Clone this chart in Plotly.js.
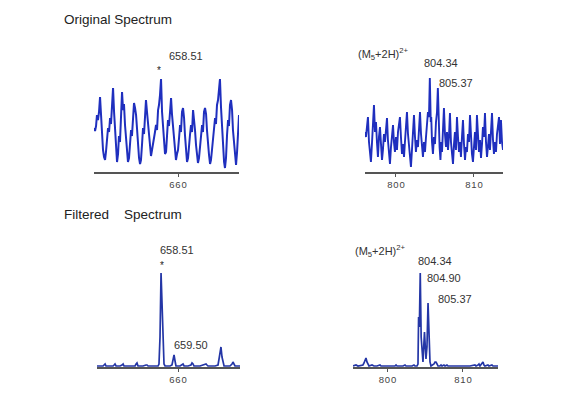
<!DOCTYPE html>
<html>
<head>
<meta charset="utf-8">
<script src="https://cdn.plot.ly/plotly-3.0.1.min.js"></script>
<style>html,body{margin:0;padding:0;background:#fff;}#chart{width:566px;height:393px;}</style>
</head>
<body>
<div id="chart"></div>
<script>
// ---- Original spectrum, left window (m/z, intensity a.u.)
var origLeftMz = [652.63,652.72,652.81,652.89,652.98,653.07,653.16,653.25,653.33,653.42,653.51,653.60,653.68,653.77,653.86,653.95,654.04,654.12,654.21,654.30,654.39,654.47,654.56,654.65,654.74,654.82,654.91,655.00,655.09,655.18,655.26,655.35,655.44,655.53,655.61,655.70,655.79,655.88,655.96,656.05,656.14,656.23,656.32,656.40,656.49,656.58,656.67,656.75,656.84,656.93,657.02,657.11,657.19,657.28,657.37,657.46,657.54,657.63,657.72,657.81,657.89,657.98,658.07,658.16,658.25,658.33,658.42,658.51,658.60,658.68,658.77,658.86,658.95,659.04,659.12,659.21,659.30,659.39,659.47,659.56,659.65,659.74,659.82,659.91,660.00,660.09,660.18,660.26,660.35,660.44,660.53,660.61,660.70,660.79,660.88,660.96,661.05,661.14,661.23,661.32,661.40,661.49,661.58,661.67,661.75,661.84,661.93,662.02,662.11,662.19,662.28,662.37,662.46,662.54,662.63,662.72,662.81,662.89,662.98,663.07,663.16,663.25,663.33,663.42,663.51,663.60,663.68,663.77,663.86,663.95,664.04,664.12,664.21,664.30,664.39,664.47,664.56,664.65,664.74,664.82,664.91,665.00,665.09,665.18,665.26,665.35];
var origLeftInt = [44,41,46,57,52,60,75,55,36,22,15,12,20,37,44,40,54,48,67,84,60,40,22,10,18,36,30,60,80,62,68,47,32,17,10,14,30,42,36,60,69,64,57,44,27,14,8,12,27,44,38,64,72,60,47,32,22,16,22,27,32,40,47,42,62,67,77,93,60,45,28,18,20,42,52,46,64,74,58,47,32,20,12,18,22,34,47,40,60,64,54,37,24,10,14,22,37,47,40,62,54,42,27,17,9,14,27,40,47,40,60,64,58,42,27,17,8,12,22,32,42,54,48,67,72,82,93,65,42,25,10,4,14,37,52,46,67,72,62,42,27,14,7,20,42,57];

// ---- Original spectrum, right window
var origRightMz = [796.03,796.15,796.28,796.41,796.54,796.67,796.79,796.92,797.05,797.18,797.31,797.44,797.56,797.69,797.82,797.95,798.08,798.21,798.33,798.46,798.59,798.72,798.85,798.97,799.10,799.23,799.36,799.49,799.62,799.74,799.87,800.00,800.13,800.26,800.38,800.51,800.64,800.77,800.90,801.03,801.15,801.28,801.41,801.54,801.67,801.79,801.92,802.05,802.18,802.31,802.44,802.56,802.69,802.82,802.95,803.08,803.21,803.33,803.46,803.59,803.72,803.85,803.97,804.10,804.23,804.34,804.46,804.52,804.62,804.74,804.87,805.00,805.13,805.26,805.37,805.49,805.59,805.70,805.80,805.90,806.03,806.15,806.28,806.41,806.54,806.67,806.79,806.92,807.05,807.18,807.31,807.44,807.56,807.69,807.82,807.95,808.08,808.21,808.33,808.46,808.59,808.72,808.85,808.97,809.10,809.23,809.36,809.49,809.62,809.74,809.87,810.00,810.13,810.26,810.38,810.51,810.64,810.77,810.90,811.03,811.15,811.28,811.41,811.54,811.67,811.79,811.92,812.05,812.18,812.31,812.44,812.56,812.69,812.82,812.95,813.08,813.21,813.33,813.46,813.59,813.72];
var origRightInt = [40,35,45,55,30,18,10,28,45,67,40,50,30,15,35,45,28,12,22,38,30,42,54,32,15,8,25,38,47,30,20,35,22,40,48,55,35,18,28,15,30,45,60,38,25,12,5,22,40,57,35,20,32,25,42,60,38,22,15,30,20,35,45,60,55,94,50,55,30,18,35,28,50,60,84,45,25,12,30,20,45,64,38,25,40,22,35,59,30,15,8,28,40,22,55,35,20,30,15,35,52,28,12,25,20,38,30,57,35,18,10,28,40,22,57,38,20,32,14,28,45,35,59,30,15,25,38,22,42,59,32,18,30,20,38,45,55,28,52,30,22];

// ---- Filtered spectrum, left window
var filtLeftMz = [652.89,653.16,653.42,653.51,653.60,653.68,654.04,654.30,654.39,654.47,654.56,654.91,655.09,655.18,655.26,655.79,656.23,656.32,656.40,656.49,656.93,657.19,657.28,657.37,657.98,658.25,658.33,658.42,658.51,658.60,658.68,658.77,658.86,659.30,659.47,659.56,659.65,659.74,659.82,660.18,660.35,660.44,660.53,660.88,661.14,661.23,661.32,661.40,661.93,662.19,662.28,662.46,662.54,662.63,663.25,663.51,663.60,663.68,663.77,663.86,663.95,664.04,664.56,664.74,664.82,664.91,665.00,665.44];
var filtLeftInt = [1,1,1,2,3,1,1,1,2,3,1,1,2,3,1,1,1,3,4,1,1,2,2,1,1,1,3,30,94,55,15,3,1,1,2,6,12,6,1,1,2,3,1,1,2,4,3,1,1,2,2,3,2,1,1,2,8,14,20,10,3,1,1,3,5,2,1,1];

// ---- Filtered spectrum, right window
var filtRightMz = [795.43,795.83,796.09,796.49,796.75,796.89,797.02,797.15,797.28,797.42,797.55,797.95,798.21,798.61,799.01,799.14,799.67,800.60,800.99,801.13,801.26,802.05,802.32,802.45,803.25,803.51,803.64,803.91,804.04,804.12,804.22,804.34,804.46,804.70,804.80,804.90,805.10,805.23,805.37,805.50,805.63,805.76,806.03,806.16,806.29,806.42,806.56,806.69,806.95,807.09,807.22,807.48,807.62,807.88,808.01,808.54,809.60,810.93,811.59,811.72,811.99,812.12,812.25,812.52,812.65,812.78,812.91,813.31,813.44,813.84,813.97,814.64];
var filtRightInt = [1,2,1,2,2,4,7,9,5,2,1,2,1,1,2,1,1,1,1,2,1,1,2,1,1,2,1,1,3,50,40,94,30,5,25,35,8,20,64,40,5,1,2,3,5,5,3,1,1,2,1,2,1,2,1,1,1,1,2,1,2,3,1,3,5,2,1,2,1,2,1,1];

// ---- tick values / labels
var leftTickVals = [660];
var leftTickText = ['6\u200a6\u200a0'];
var rightTickVals = [800, 810];
var rightTickText = ['8\u200a0\u200a0', '8\u200a1\u200a0'];

var topColor = '#1f2fbe';
var botColor = '#2436a6';

var traces = [
  {x: origLeftMz, y: origLeftInt, xaxis: 'x', yaxis: 'y', type: 'scatter', mode: 'lines', line: {color: topColor, width: 2}},
  {x: origRightMz, y: origRightInt, xaxis: 'x2', yaxis: 'y2', type: 'scatter', mode: 'lines', line: {color: topColor, width: 1.9}},
  {x: filtLeftMz, y: filtLeftInt, xaxis: 'x3', yaxis: 'y3', type: 'scatter', mode: 'lines', line: {color: botColor, width: 1.7}},
  {x: filtRightMz, y: filtRightInt, xaxis: 'x4', yaxis: 'y4', type: 'scatter', mode: 'lines', line: {color: botColor, width: 1.7}}
];

function xax(domain, range, vals, text) {
  return {
    domain: domain, range: range, showline: true, linecolor: '#555', linewidth: 1.5,
    ticks: 'outside', ticklen: 3, tickwidth: 1, tickcolor: '#555',
    tickmode: 'array', tickvals: vals, ticktext: text,
    tickfont: {family: 'Liberation Sans, Arial, sans-serif', size: 9.5, color: '#444'},
    showgrid: false, zeroline: false, fixedrange: true
  };
}
function yax(domain, anchor) {
  return {domain: domain, range: [0, 102], visible: false, showgrid: false, zeroline: false, anchor: anchor, fixedrange: true};
}

var W = 566, H = 393;
function px(v) { return v / W; }
function py(v) { return 1 - v / H; }
var annFont = {family: 'Liberation Sans, Arial, sans-serif', size: 11, color: '#333'};
function ann(text, x, y, opts) {
  var a = {text: text, xref: 'paper', yref: 'paper', x: x, y: y, xanchor: 'left', yanchor: 'middle', showarrow: false, font: annFont};
  if (opts) { for (var k in opts) a[k] = opts[k]; }
  return a;
}
var titleFont = {family: 'Liberation Sans, Arial, sans-serif', size: 13.5, color: '#222'};
var ionFont = {family: 'Liberation Sans, Arial, sans-serif', size: 11, color: '#333'};
var starFont = {family: 'Liberation Sans, Arial, sans-serif', size: 10, color: '#222'};

var layout = {
  width: W, height: H,
  margin: {l: 0, r: 0, t: 0, b: 0},
  paper_bgcolor: '#fff', plot_bgcolor: 'rgba(0,0,0,0)',
  showlegend: false,
  xaxis: Object.assign(xax([px(94), px(239)], [652.63, 665.35], leftTickVals, leftTickText), {anchor: 'y'}),
  yaxis: yax([py(172), py(70)], 'x'),
  xaxis2: Object.assign(xax([px(365), px(503)], [796.03, 813.72], rightTickVals, rightTickText), {anchor: 'y2'}),
  yaxis2: yax([py(172), py(70)], 'x2'),
  xaxis3: Object.assign(xax([px(97), px(240)], [652.89, 665.44], leftTickVals, leftTickText), {anchor: 'y3'}),
  yaxis3: yax([py(367), py(265)], 'x3'),
  xaxis4: Object.assign(xax([px(353), px(498)], [795.43, 814.64], rightTickVals, rightTickText), {anchor: 'y4'}),
  yaxis4: yax([py(367), py(265)], 'x4'),
  annotations: [
    ann('Original Spectrum', px(62), py(19), {font: titleFont}),
    ann('Filtered\u00a0\u00a0\u00a0 Spectrum', px(62), py(215), {font: titleFont}),
    ann('658.51', px(167), py(56)),
    ann('*', px(159), py(70), {xanchor: 'center', font: starFont}),
    ann('(M<sub>5</sub>+2H)<sup>2+</sup>', px(356), py(54), {font: ionFont}),
    ann('804.34', px(422), py(63)),
    ann('805.37', px(437), py(83)),
    ann('658.51', px(158), py(250)),
    ann('*', px(162), py(265), {xanchor: 'center', font: starFont}),
    ann('659.50', px(172), py(345)),
    ann('(M<sub>5</sub>+2H)<sup>2+</sup>', px(353), py(251), {font: ionFont}),
    ann('804.34', px(416), py(261)),
    ann('804.90', px(425), py(278)),
    ann('805.37', px(436), py(299))
  ]
};

Plotly.newPlot('chart', traces, layout, {staticPlot: true, displayModeBar: false});
</script>
</body>
</html>
